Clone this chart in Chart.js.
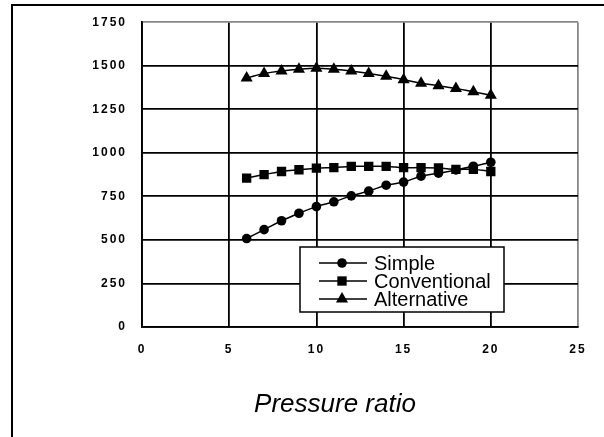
<!DOCTYPE html>
<html>
<head>
<meta charset="utf-8">
<script src="https://cdn.jsdelivr.net/npm/chart.js@4/dist/chart.umd.min.js"></script>
<style>
  html, body { margin: 0; padding: 0; background: #fff; }
  #wrap { width: 604px; height: 437px; position: relative; }
</style>
</head>
<body>
<div id="wrap"><canvas id="chart" width="604" height="437"></canvas></div>
<script>
// Pressure ratio values (x)
const pressureRatio = [6, 7, 8, 9, 10, 11, 12, 13, 14, 15, 16, 17, 18, 19, 20];

// Series values
const simple = [508, 559, 610, 653, 691, 719, 753, 780, 814, 832, 866, 883, 902, 923, 946];
const conventional = [855, 875, 893, 903, 912, 915, 922, 922, 922, 915, 915, 913, 905, 905, 893];
const alternative = [1430, 1455, 1470, 1480, 1485, 1480, 1470, 1455, 1440, 1420, 1400, 1385, 1370, 1350, 1330];

const seriesNames = ['Simple', 'Conventional', 'Alternative'];
const xTitle = 'Pressure ratio';

function toPoints(ys) {
    return ys.map((y, i) => ({ x: pressureRatio[i], y: y }));
}

const markerStyles = [
    { style: 'circle', radius: 4.8 },
    { style: 'rect', radius: 6.6 },
    { style: 'triangle', radius: 7 }
];

const seriesData = [simple, conventional, alternative];

const datasets = seriesData.map((ys, i) => ({
    label: seriesNames[i],
    data: toPoints(ys),
    showLine: true,
    tension: 0.4,
    borderColor: '#000',
    backgroundColor: '#000',
    borderWidth: 1.5,
    pointStyle: markerStyles[i].style,
    pointRadius: markerStyles[i].radius,
    pointBorderWidth: 0,
    pointBackgroundColor: '#000'
}));

// frame, axis title and inner legend
const decorPlugin = {
    id: 'decor',
    beforeDraw(chart) {
        chart.ctx.letterSpacing = '2px';
    },
    beforeDatasetsDraw(chart) {
        chart.ctx.letterSpacing = '0px';
    },
    afterDraw(chart) {
        const ctx = chart.ctx;
        ctx.save();
        ctx.letterSpacing = '0px';
        // outer frame (runs off the right and bottom edges)
        ctx.strokeStyle = '#000';
        ctx.lineWidth = 2;
        ctx.strokeRect(12, 5, 700, 600);

        // axis title
        ctx.fillStyle = '#000';
        ctx.font = 'italic 26px "Liberation Sans", Arial, sans-serif';
        ctx.textAlign = 'center';
        ctx.textBaseline = 'alphabetic';
        ctx.fillText(xTitle, 335, 412);

        // legend box
        const bx = 300, by = 247, bw = 204, bh = 65;
        ctx.fillStyle = '#fff';
        ctx.fillRect(bx, by, bw, bh);
        ctx.strokeStyle = '#000';
        ctx.lineWidth = 1.5;
        ctx.strokeRect(bx, by, bw, bh);
        ctx.font = '20px "Liberation Sans", Arial, sans-serif';
        ctx.textAlign = 'left';
        ctx.textBaseline = 'middle';
        seriesNames.forEach((name, i) => {
            const y = 263 + i * 18;
            ctx.beginPath();
            ctx.moveTo(319, y);
            ctx.lineTo(367, y);
            ctx.lineWidth = 1.5;
            ctx.strokeStyle = '#000';
            ctx.stroke();
            ctx.fillStyle = '#000';
            Chart.helpers.drawPoint(ctx, {
                pointStyle: markerStyles[i].style,
                radius: markerStyles[i].radius,
                borderWidth: 0
            }, 342, y);
            ctx.fillStyle = '#000';
            ctx.fillText(name, 374, y + 1);
        });
        ctx.restore();
    }
};

const tickFont = { family: '"Liberation Sans", Arial, sans-serif', size: 12, weight: 'bold' };

new Chart(document.getElementById('chart'), {
    type: 'scatter',
    data: { datasets: datasets },
    options: {
        responsive: false,
        animation: false,
        layout: { padding: { left: 0, top: 18, right: 26, bottom: 0 } },
        plugins: {
            legend: { display: false },
            tooltip: { enabled: false }
        },
        scales: {
            x: {
                type: 'linear',
                min: 0,
                max: 25,
                ticks: { stepSize: 5, color: '#000', font: tickFont, padding: 15, callback: v => String(v) },
                grid: {
                    drawTicks: false,
                    lineWidth: 1.8,
                    color: ctx => ctx.index === 5 ? '#888' : '#000'
                },
                border: { color: '#000', width: 1.8 },
                afterFit: s => { s.height = 110; }
            },
            y: {
                type: 'linear',
                min: 0,
                max: 1750,
                ticks: { stepSize: 250, color: '#000', font: tickFont, padding: 15, callback: v => String(v) },
                grid: {
                    drawTicks: false,
                    lineWidth: 1.8,
                    color: ctx => ctx.index === 7 ? '#888' : '#000'
                },
                border: { color: '#000', width: 1.8 },
                afterFit: s => { s.width = 142; }
            }
        }
    },
    plugins: [decorPlugin]
});
</script>
</body>
</html>
